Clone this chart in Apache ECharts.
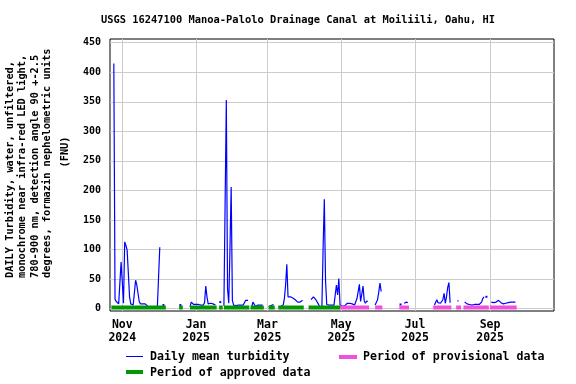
<!DOCTYPE html>
<html><head><meta charset="utf-8">
<script src="https://cdn.jsdelivr.net/npm/echarts@6/dist/echarts.min.js"></script>
<style>html,body{margin:0;padding:0;background:#fff}#c{width:576px;height:384px}</style>
</head><body><div id="c"></div>
<script>
// ---------------- data ----------------
const titleText = 'USGS 16247100 Manoa-Palolo Drainage Canal at Moiliili, Oahu, HI';
const yTitleLines = [
  'DAILY Turbidity, water, unfiltered,',
  'monochrome near infra-red LED light,',
  '780-900 nm, detection angle 90 +-2.5',
  'degrees, formazin nephelometric units'
];
const yTitleLast = '(FNU)';
const legendNames = ['Daily mean turbidity', 'Period of provisional data', 'Period of approved data'];
const xTickDates = ['2024-11-01', '2025-01-01', '2025-03-01', '2025-05-01', '2025-07-01', '2025-09-01'];
const monthNames = ['Jan','Feb','Mar','Apr','May','Jun','Jul','Aug','Sep','Oct','Nov','Dec'];
const yTicks = [0, 50, 100, 150, 200, 250, 300, 350, 400, 450];

// Daily mean turbidity (FNU); index 0 = day 1 of the month; null = no value
const oct2024 = [null,null,null,null,null,null,null,null,null,null,null,null,null,null,null,null,null,null,null,null,null,null,null,null,
  415,16,12,10,8,10,79];
const nov2024 = [45,9,113,107,99,60,20,8,6,6,8,48,40,26,12,8,7,8,8,8,7,4,3,3,3,3,3,3,3,3];
const dec2024 = [54,104,null,null,6,null,null,null,null,null,null,null,null,null,null,null,null,null,6,null,
  null,null,null,null,null,null,3,11,9,7,7];
const jan2025 = [7,6,7,6,6,9,6,10,38,20,8,9,9,9,8,7,6,null,null,null,11,null,null,5,6,353,34,9,100,206,14];
const feb2025 = [6,6,5,6,6,7,6,6,6,9,14,14,14,null,null,3,11,11,4,4,6,6,6,6,6,null,null,null];
const mar2025 = [null,3,4,5,6,7,null,null,null,3,4,4,5,6,17,40,75,20,23,20,22,18,15,15,12,11,11,11,12,14,null];
const apr2025 = [null,null,null,null,null,15,17,20,17,15,12,8,4,3,3,102,185,48,7,6,6,6,6,6,6,6,40,23,51,6];
const may2025 = [5,4,4,5,8,9,9,9,9,8,6,6,9,17,15,41,12,9,38,13,9,13,12,null,null,null,null,null,6,9,15];
const jun2025 = [28,43,29,null,null,null,null,null,null,null,null,null,null,null,null,null,null,null,7,null,
  null,9,10,11,10,null,null,null,null,null];
const jul2025 = [null,null,null,null,null,null,null,null,null,null,null,null,null,null,null,null,
  6,8,15,10,8,9,9,15,26,9,20,36,44,10,null];
const aug2025 = [null,null,null,null,13,13,null,null,null,null,11,9,8,7,7,7,6,6,7,7,7,7,7,9,11,17,20,null,20,null,null];
const sep2025 = [null,11,11,10,9,11,12,14,12,10,9,8,8,9,10,10,10,11,10,11,11,11,null,null,null,null,null,null,null,null];

// Data-approval periods [start, end]
const approvedPeriods = [
  ['2024-10-23','2024-12-07'], ['2024-12-18','2024-12-21'], ['2024-12-27','2025-01-18'],
  ['2025-01-20','2025-01-23'], ['2025-01-24','2025-02-14'], ['2025-02-15','2025-02-26'],
  ['2025-03-02','2025-03-07'], ['2025-03-10','2025-03-31'], ['2025-04-04','2025-04-30']
];
const provisionalPeriods = [
  ['2025-04-30','2025-05-24'], ['2025-05-29','2025-06-04'], ['2025-06-18','2025-06-26'],
  ['2025-07-16','2025-07-31'], ['2025-08-04','2025-08-08'], ['2025-08-10','2025-08-31'],
  ['2025-09-01','2025-09-23']
];

// ---------------- build ----------------
const DAY = 86400000;
function utc(s){ const p = s.split('-').map(Number); return Date.UTC(p[0], p[1]-1, p[2]); }
const monthBlocks = [[2024,10,oct2024],[2024,11,nov2024],[2024,12,dec2024],[2025,1,jan2025],[2025,2,feb2025],
  [2025,3,mar2025],[2025,4,apr2025],[2025,5,may2025],[2025,6,jun2025],[2025,7,jul2025],[2025,8,aug2025],[2025,9,sep2025]];
const lineData = [];
monthBlocks.forEach(([y,m,arr]) => arr.forEach((v,i) => lineData.push([Date.UTC(y, m-1, i+1), v])));
const isolated = lineData.map((d,i) => d[1] != null &&
  (i === 0 || lineData[i-1][1] == null) && (i === lineData.length-1 || lineData[i+1][1] == null));

const BAR_LEVEL = 1.9;
function periodData(periods){
  const out = [];
  periods.forEach(([a,b], i) => {
    if (i) out.push([utc(a), null]);
    out.push([utc(a), BAR_LEVEL], [utc(b), BAR_LEVEL]);
  });
  return out;
}

const FONT = '"DejaVu Sans Mono", "Liberation Mono", monospace';
const nov1 = Date.UTC(2024, 10, 1);
const BLUE = '#0000ff', GREEN = '#009900', PINK = '#f050dc';

const chart = echarts.init(document.getElementById('c'), null, {renderer: 'canvas'});
chart.setOption({
  animation: false,
  backgroundColor: '#ffffff',
  title: {
    text: titleText, left: 101, top: 14, padding: 0,
    textStyle: {fontFamily: FONT, fontSize: 10.4, fontWeight: 'bold', color: '#000', lineHeight: 12}
  },
  grid: {left: 110, top: 39, width: 444, height: 272, show: true, borderColor: '#000', borderWidth: 1, containLabel: false},
  xAxis: {
    type: 'value',
    min: nov1 - 10.16 * DAY, max: nov1 + 356.86 * DAY,
    axisLine: {show: false},
    axisTick: {show: false, customValues: xTickDates.map(utc)},
    splitLine: {show: true, lineStyle: {color: '#cccccc', width: 1}},
    axisLabel: {
      customValues: xTickDates.map(utc), margin: 8,
      fontFamily: FONT, fontSize: 11.5, fontWeight: 'bold', color: '#000', lineHeight: 13,
      formatter: v => { const d = new Date(v); return monthNames[d.getUTCMonth()] + '\n' + d.getUTCFullYear(); }
    }
  },
  yAxis: {
    type: 'value', min: -4.06, max: 456.3,
    axisLine: {show: false},
    axisTick: {show: false, customValues: yTicks},
    splitLine: {show: true, lineStyle: {color: '#cccccc', width: 1}},
    axisLabel: {customValues: yTicks, margin: 9, fontFamily: FONT, fontSize: 10, fontWeight: 'bold', color: '#000'}
  },
  series: [
    {
      name: legendNames[0], type: 'line', data: lineData, connectNulls: false,
      showSymbol: true, symbol: 'rect',
      symbolSize: (val, params) => isolated[params.dataIndex] ? [2, 2] : 0,
      itemStyle: {color: BLUE}, lineStyle: {color: BLUE, width: 1.2},
      emphasis: {disabled: true}, z: 2
    },
    {
      name: legendNames[2], type: 'line', data: periodData(approvedPeriods), connectNulls: false,
      showSymbol: false, lineStyle: {color: GREEN, width: 4, cap: 'butt'}, itemStyle: {color: GREEN},
      emphasis: {disabled: true}, z: 3
    },
    {
      name: legendNames[1], type: 'line', data: periodData(provisionalPeriods), connectNulls: false,
      showSymbol: false, lineStyle: {color: PINK, width: 4, cap: 'butt'}, itemStyle: {color: PINK},
      emphasis: {disabled: true}, z: 3
    }
  ],
  graphic: [
    {type: 'text', x: 4, y: 278, rotation: Math.PI/2,
      style: {text: yTitleLines.join('\n'), font: 'bold 10.3px ' + FONT, fill: '#000',
        textAlign: 'left', textVerticalAlign: 'top', lineHeight: 12.5}},
    {type: 'text', x: 65, y: 152, rotation: Math.PI/2,
      style: {text: yTitleLast, font: 'bold 10.3px ' + FONT, fill: '#000', textAlign: 'center', textVerticalAlign: 'middle'}},
    {type: 'line', shape: {x1: 126, y1: 356.5, x2: 143, y2: 356.5}, style: {stroke: BLUE, lineWidth: 1}},
    {type: 'text', x: 150, y: 357, style: {text: legendNames[0], font: 'bold 11.6px ' + FONT, fill: '#000', textVerticalAlign: 'middle'}},
    {type: 'rect', shape: {x: 339, y: 355, width: 18, height: 4}, style: {fill: PINK}},
    {type: 'text', x: 363, y: 357, style: {text: legendNames[1], font: 'bold 11.6px ' + FONT, fill: '#000', textVerticalAlign: 'middle'}},
    {type: 'rect', shape: {x: 126, y: 370, width: 17, height: 4}, style: {fill: GREEN}},
    {type: 'text', x: 150, y: 373, style: {text: legendNames[2], font: 'bold 11.6px ' + FONT, fill: '#000', textVerticalAlign: 'middle'}}
  ]
});
</script>
</body></html>
